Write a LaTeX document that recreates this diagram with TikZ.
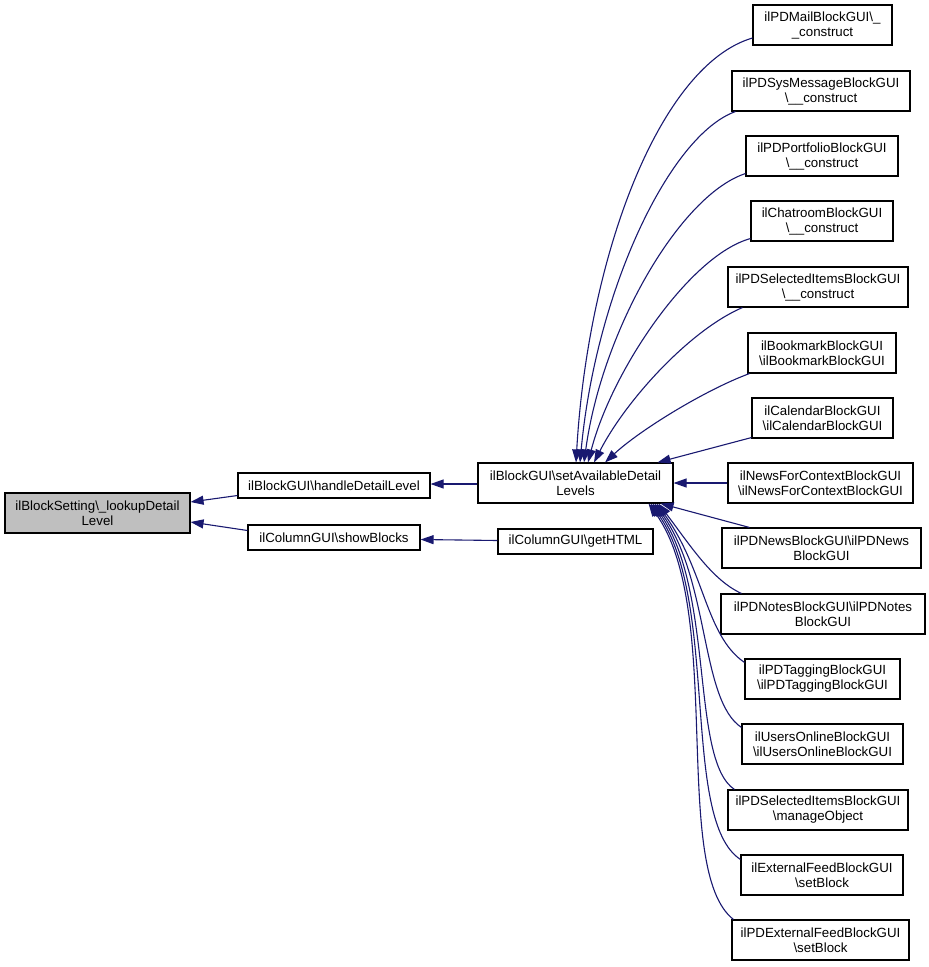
\documentclass[tikz,border=0pt]{standalone}
\usepackage{fontspec}
\setmainfont{Liberation Sans}
\usetikzlibrary{arrows.meta,calc}
\definecolor{edgeblue}{RGB}{25,25,112}
\definecolor{focusgray}{RGB}{191,191,191}
\begin{document}
\begin{tikzpicture}[x=1pt,y=-1pt,
  box/.style={draw=black,line width=1.1pt,fill=white,inner sep=0pt,align=center,
    font=\fontsize{13.3}{15}\selectfont,minimum height=40pt},
  sbox/.style={box,minimum height=25pt},
  edge/.style={draw=edgeblue,line width=1.1pt,-{Triangle[length=13pt,width=9pt]}}]
\useasboundingbox (0,0) rectangle (929,967);
% nodes
\node[box,fill=focusgray,minimum width=185pt] (set) at (97.5,513) {ilBlockSetting\textbackslash\_lookupDetail\\Level};
\node[sbox,minimum width=192pt] (hdl) at (334,485.5) {ilBlockGUI\textbackslash handleDetailLevel};
\node[sbox,minimum width=172pt] (show) at (334,537.5) {ilColumnGUI\textbackslash showBlocks};
\node[box,minimum width=195pt] (sadl) at (575.5,483) {ilBlockGUI\textbackslash setAvailableDetail\\Levels};
\node[sbox,minimum width=155pt] (html) at (575.5,541.5) {ilColumnGUI\textbackslash getHTML};
\node[box,minimum width=139pt] (mail) at (822.5,25) {ilPDMailBlockGUI\textbackslash\_\\\_construct};
\node[box,minimum width=178pt] (sys) at (821,91) {ilPDSysMessageBlockGUI\\\textbackslash\_\_construct};
\node[box,minimum width=152pt] (port) at (822,156) {ilPDPortfolioBlockGUI\\\textbackslash\_\_construct};
\node[box,minimum width=142pt] (chat) at (822,221) {ilChatroomBlockGUI\\\textbackslash\_\_construct};
\node[box,minimum width=180pt] (sel) at (818,287) {ilPDSelectedItemsBlockGUI\\\textbackslash\_\_construct};
\node[box,minimum width=148pt] (book) at (822,353) {ilBookmarkBlockGUI\\\textbackslash ilBookmarkBlockGUI};
\node[box,minimum width=141pt] (cal) at (822.5,418) {ilCalendarBlockGUI\\\textbackslash ilCalendarBlockGUI};
\node[box,minimum width=185pt] (nfc) at (820.5,483) {ilNewsForContextBlockGUI\\\textbackslash ilNewsForContextBlockGUI};
\node[box,minimum width=199pt] (pdn) at (821.5,548) {ilPDNewsBlockGUI\textbackslash ilPDNews\\BlockGUI};
\node[box,minimum width=204pt] (notes) at (823,614) {ilPDNotesBlockGUI\textbackslash ilPDNotes\\BlockGUI};
\node[box,minimum width=155pt] (tag) at (822.5,679) {ilPDTaggingBlockGUI\\\textbackslash ilPDTaggingBlockGUI};
\node[box,minimum width=161pt] (uo) at (822.5,744) {ilUsersOnlineBlockGUI\\\textbackslash ilUsersOnlineBlockGUI};
\node[box,minimum width=180pt] (man) at (818,810) {ilPDSelectedItemsBlockGUI\\\textbackslash manageObject};
\node[box,minimum width=162pt] (ext) at (822,875) {ilExternalFeedBlockGUI\\\textbackslash setBlock};
\node[box,minimum width=177pt] (pdext) at (820.5,940) {ilPDExternalFeedBlockGUI\\\textbackslash setBlock};
% edges
\draw[edge] ($(hdl.west)+(0,10)$) -- ($(set.east)+(0,-11)$);
\draw[edge] ($(show.west)+(0,-7)$) -- ($(set.east)+(0,9)$);
\draw[edge] ($(sadl.west)+(0,1)$) -- ($(hdl.east)+(0,-1.5)$);
\draw[edge] ($(html.west)+(0,-1)$) -- ($(show.east)+(0,2)$);
\draw[edge] ($(mail.west)+(0,13)$) .. controls (660,65) and (588,255) .. ($(sadl.north)+(0.5,0)$);
\draw[edge] ($(sys.south west)+(4,0)$) .. controls (670,135) and (596,290) .. ($(sadl.north)+(4.5,0)$);
\draw[edge] ($(port.south west)+(0,-3)$) .. controls (680,195) and (602,330) .. ($(sadl.north)+(8.5,0)$);
\draw[edge] ($(chat.south west)+(0,-3)$) .. controls (690,255) and (612,370) .. ($(sadl.north)+(12.5,0)$);
\draw[edge] ($(sel.south west)+(15,0)$) .. controls (690,330) and (626,400) .. ($(sadl.north)+(18.5,0)$);
\draw[edge] ($(book.south west)+(2,0)$) .. controls (705,390) and (640,430) .. ($(sadl.north)+(29.5,0)$);
\draw[edge] ($(cal.south west)+(0,-1)$) -- ($(sadl.north east)+(-16,0)$);
\draw[edge] (nfc.west) -- (sadl.east);
\draw[edge] ($(pdn.north west)+(28,0)$) -- ($(sadl.south east)+(-13,0)$);
\draw[edge] ($(notes.north west)+(21,0)$) .. controls (712,580) and (690,545) .. ($(sadl.south east)+(-15,0)$);
\draw[edge] ($(tag.north west)+(0,4)$) .. controls (705,635) and (705,570) .. ($(sadl.south east)+(-17,0)$);
\draw[edge] ($(uo.north west)+(0,4)$) .. controls (700,700) and (710,580) .. ($(sadl.south east)+(-19,0)$);
\draw[edge] ($(man.north west)+(7,0)$) .. controls (690,760) and (715,590) .. ($(sadl.south east)+(-21,0)$);
\draw[edge] ($(ext.north west)+(0,5)$) .. controls (680,820) and (720,600) .. ($(sadl.south east)+(-23,0)$);
\draw[edge] ($(pdext.north west)+(2,0)$) .. controls (670,870) and (725,610) .. ($(sadl.south east)+(-25,0)$);
\end{tikzpicture}
\end{document}
